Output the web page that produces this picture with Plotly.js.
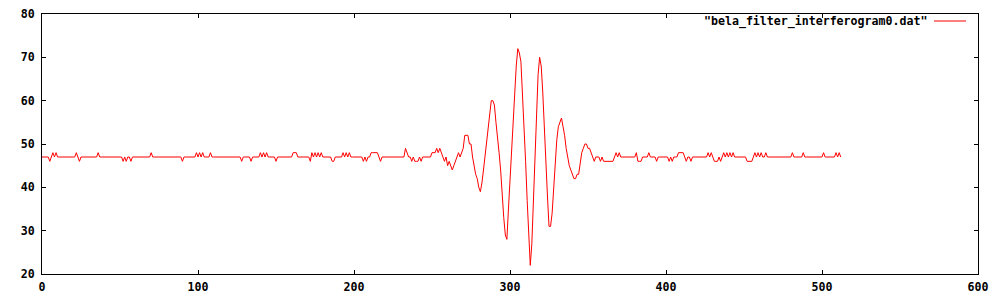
<!DOCTYPE html>
<html>
<head>
<meta charset="utf-8">
<script src="https://cdn.plot.ly/plotly-3.0.1.min.js"></script>
<style>
html,body{margin:0;padding:0;background:#fff;}
#chart{width:1000px;height:300px;}
</style>
</head>
<body>
<div id="chart"></div>
<script>
// Series name (legend label)
const seriesName = '"bela_filter_interferogram0.dat"';

// Interferogram samples, index 0..512
const sampleValues = [
  47,47,47,47,47,46,47,48,47,48,
  47,47,47,47,47,47,47,47,47,47,
  47,47,48,47,46,47,47,47,47,47,
  47,47,47,47,47,47,48,47,47,47,
  47,47,47,47,47,47,47,47,47,47,
  47,47,46,47,46,47,47,46,47,47,
  47,47,47,47,47,47,47,47,47,47,
  48,47,47,47,47,47,47,47,47,47,
  47,47,47,47,47,47,47,47,47,47,
  46,47,47,47,47,47,47,47,47,48,
  47,48,47,48,47,47,47,47,48,47,
  47,47,47,47,47,47,47,47,47,47,
  47,47,47,47,47,47,47,47,46,47,
  47,47,47,47,46,47,47,47,47,47,
  48,47,48,47,48,47,47,47,47,47,
  46,47,47,47,47,47,47,47,47,47,
  47,48,48,48,47,47,47,47,47,47,
  47,47,46,48,47,48,47,48,47,48,
  47,47,47,47,47,47,46,46,47,47,
  47,47,47,48,47,48,47,48,47,47,
  47,47,47,47,47,47,46,47,46,47,
  47,48,48,48,48,48,47,46,47,47,
  47,47,47,47,47,47,47,47,47,47,
  47,47,47,49,48,47,47,46,47,46,
  46,46,47,46,47,47,47,47,47,47,
  48,48,48,49,48,49,48,47,46,47,
  45,46,45,44,45,46,47,48,47,48,
  49,52,52,52,50,50,47,45,43,42,
  40,39,41,44,47,50,54,57,60,60,
  59,55,52,48,44,37,33,29,28,35,
  42,48,56,63,68,72,71,69,62,54,
  46,37,28,22,27,37,49,58,66,70,
  68,62,53,45,38,31,31,34,40,46,
  51,54,55,56,54,52,49,47,45,44,
  43,42,42,43,43,46,48,49,50,50,
  49,49,48,47,46,47,47,47,46,47,
  46,46,46,46,46,46,46,47,48,47,
  48,47,47,47,47,47,47,47,47,47,
  47,48,46,46,46,47,47,47,47,48,
  47,47,47,47,46,47,47,47,47,47,
  47,47,46,47,46,47,47,47,48,48,
  48,48,47,46,47,47,46,47,47,47,
  47,47,47,47,47,47,47,48,47,48,
  47,46,46,46,47,46,47,48,47,48,
  47,48,47,48,47,47,47,47,47,47,
  47,47,46,46,46,46,47,48,47,48,
  47,48,47,47,48,47,47,47,47,47,
  47,47,47,47,47,47,47,47,47,47,
  47,48,47,47,47,47,47,47,48,47,
  47,47,47,47,47,47,47,47,47,47,
  47,48,47,47,47,47,47,47,47,48,
  47,48,47
];

// Sample indices
const sampleIndex = sampleValues.map((_, i) => i);

// Axis ticks
const xTicks = [0, 100, 200, 300, 400, 500, 600];
const yTicks = [20, 30, 40, 50, 60, 70, 80];

const tickFont = {family: 'DejaVu Sans Mono, Liberation Mono, monospace', size: 11.6, color: '#000', weight: 'bold'};

const trace = {
  x: sampleIndex,
  y: sampleValues,
  type: 'scatter',
  mode: 'lines',
  name: seriesName,
  line: {color: '#ff0000', width: 1},
  showlegend: false,
  hoverinfo: 'skip'
};

const axisCommon = {
  showline: true,
  linecolor: '#000',
  linewidth: 1,
  mirror: 'ticks',
  ticks: 'inside',
  ticklen: 4,
  tickwidth: 1,
  tickcolor: '#000',
  showgrid: false,
  zeroline: false,
  tickfont: tickFont,
  fixedrange: true
};

const layout = {
  width: 1000,
  height: 300,
  margin: {l: 42, r: 22, t: 14, b: 26, pad: 0},
  paper_bgcolor: '#fff',
  plot_bgcolor: '#fff',
  xaxis: Object.assign({}, axisCommon, {
    range: [0, 600],
    tickmode: 'array',
    tickvals: xTicks,
    ticktext: xTicks.map(String),
    ticklabelstandoff: 2
  }),
  yaxis: Object.assign({}, axisCommon, {
    range: [20, 80],
    tickmode: 'array',
    tickvals: yTicks,
    ticktext: yTicks.map(String),
    ticklabelstandoff: 4
  }),
  annotations: [{
    xref: 'paper', yref: 'paper',
    x: (929 - 42) / 936, y: 1 - (21 - 14) / 260,
    xanchor: 'right', yanchor: 'middle',
    text: seriesName,
    showarrow: false,
    font: tickFont
  }],
  shapes: [{
    type: 'line', xref: 'paper', yref: 'paper',
    x0: (934 - 42) / 936, x1: (966 - 42) / 936,
    y0: 1 - (21 - 14) / 260, y1: 1 - (21 - 14) / 260,
    line: {color: '#ff0000', width: 1}
  }]
};

Plotly.newPlot('chart', [trace], layout, {staticPlot: true, displayModeBar: false});
</script>
</body>
</html>
